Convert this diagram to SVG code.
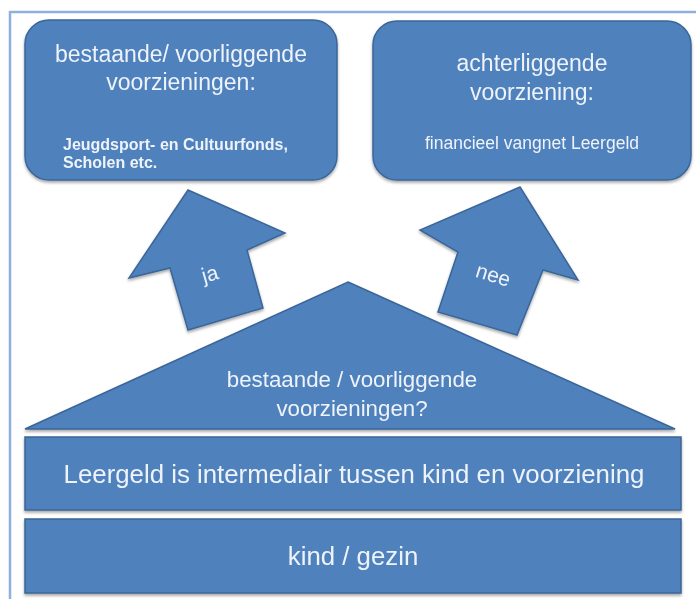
<svg xmlns="http://www.w3.org/2000/svg" width="696" height="599" viewBox="0 0 696 599">
  <style>
    .shape { fill: #4f81bd; stroke: #3a6699; stroke-width: 1.5; }
    .t { fill: #eef3fa; font-family: "Liberation Sans", Arial, sans-serif; text-anchor: middle; }
    .tb { fill: #eef3fa; font-family: "Liberation Sans", Arial, sans-serif; font-weight: bold; }
    .frame { fill: none; stroke: #8fb0da; stroke-width: 2.5; }
  </style>
  <defs>
    <filter id="sh" x="-5%" y="-5%" width="110%" height="115%">
      <feGaussianBlur in="SourceAlpha" stdDeviation="1.5"/>
      <feOffset dx="0" dy="2" result="b"/>
      <feComponentTransfer><feFuncA type="linear" slope="0.35"/></feComponentTransfer>
      <feMerge><feMergeNode/><feMergeNode in="SourceGraphic"/></feMerge>
    </filter>
  </defs>
  <rect width="696" height="599" fill="#ffffff"/>
  <path class="frame" d="M10,599 L10,12 L696,12"/>

  <g id="box-bestaande" filter="url(#sh)">
    <rect class="shape" x="25" y="20" width="312" height="160" rx="24" ry="24"/>
    <text class="t" x="181" y="62" font-size="23">bestaande/ voorliggende</text>
    <text class="t" x="181" y="90" font-size="23">voorzieningen:</text>
    <text class="tb" x="63" y="150" font-size="16">Jeugdsport- en Cultuurfonds,</text>
    <text class="tb" x="63" y="168" font-size="16">Scholen etc.</text>
  </g>

  <g id="box-achterliggend" filter="url(#sh)">
    <rect class="shape" x="373" y="21" width="318" height="159" rx="24" ry="24"/>
    <text class="t" x="532" y="71" font-size="23">achterliggende</text>
    <text class="t" x="532" y="100" font-size="23">voorziening:</text>
    <text class="t" x="532" y="149" font-size="17.5">financieel vangnet Leergeld</text>
  </g>

  <g id="connectors">
    <g id="arrow-ja" filter="url(#sh)">
      <polygon class="shape" points="188,190 285,233 247,250 263,308 188,330 170,268 129,278"/>
      <text class="t" font-size="21" transform="translate(210,274) rotate(-16)" y="7">ja</text>
    </g>
    <g id="arrow-nee" filter="url(#sh)">
      <polygon class="shape" points="520,187 578,280 543,270 517,335 438,312 458,252 420,230"/>
      <text class="t" font-size="21" transform="translate(493,276) rotate(17)" y="6">nee</text>
    </g>
  </g>

  <g id="triangle" filter="url(#sh)">
    <polygon class="shape" points="348,282 675,429 25,429"/>
    <text class="t" x="352" y="387" font-size="22.3">bestaande / voorliggende</text>
    <text class="t" x="352" y="416" font-size="22.3">voorzieningen?</text>
  </g>

  <g id="leergeld" filter="url(#sh)">
    <rect class="shape" x="25" y="437" width="656" height="73"/>
    <text class="t" x="354" y="483" font-size="25.8">Leergeld is intermediair tussen kind en voorziening</text>
  </g>

  <g id="kind-gezin" filter="url(#sh)">
    <rect class="shape" x="25" y="519" width="656" height="74"/>
    <text class="t" x="353" y="565" font-size="25.8">kind / gezin</text>
  </g>
</svg>
